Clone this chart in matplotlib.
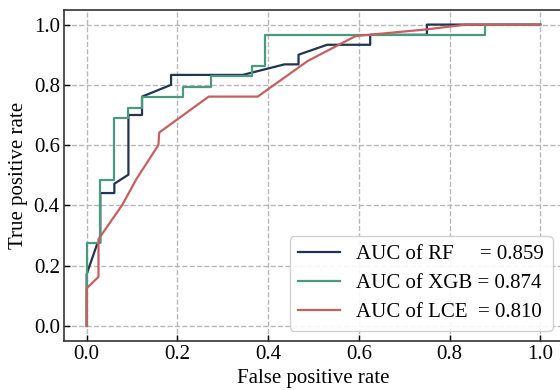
import numpy as np
import matplotlib
matplotlib.use("Agg")
import matplotlib.pyplot as plt

# ROC curve points
fpr_rf = [0.0, 0.0, 0.024, 0.03, 0.03, 0.061, 0.061, 0.092, 0.092, 0.122, 0.122,
          0.186, 0.186, 0.344, 0.436, 0.467, 0.467, 0.53, 0.625, 0.625, 0.75, 0.75, 1.0]
tpr_rf = [0.0, 0.172, 0.276, 0.276, 0.441, 0.441, 0.472, 0.502, 0.70, 0.70, 0.761,
          0.80, 0.833, 0.833, 0.868, 0.868, 0.90, 0.933, 0.933, 0.966, 0.966, 1.0, 1.0]

fpr_xgb = [0.0, 0.0, 0.03, 0.03, 0.061, 0.061, 0.091, 0.091, 0.121, 0.121, 0.212,
           0.212, 0.273, 0.273, 0.364, 0.364, 0.394, 0.394, 0.879, 0.879, 1.0]
tpr_xgb = [0.0, 0.276, 0.276, 0.483, 0.483, 0.69, 0.69, 0.724, 0.724, 0.759, 0.759,
           0.793, 0.793, 0.828, 0.828, 0.862, 0.862, 0.966, 0.966, 1.0, 1.0]

fpr_lce = [0.0, 0.0, 0.026, 0.026, 0.079, 0.109, 0.158, 0.16, 0.269, 0.377,
           0.487, 0.593, 0.749, 0.837, 1.0]
tpr_lce = [0.0, 0.125, 0.163, 0.288, 0.403, 0.486, 0.60, 0.642, 0.761, 0.761,
           0.879, 0.962, 0.984, 1.0, 1.0]

labels = ["AUC of RF     = 0.859", "AUC of XGB = 0.874", "AUC of LCE  = 0.810"]
colors = ["#1f3550", "#4b9a80", "#c4605f"]

plt.rcParams['font.family'] = ['Liberation Serif', 'DejaVu Serif']
plt.rcParams['font.size'] = 15

fig = plt.figure(figsize=(5.6, 3.9), dpi=100)
ax = fig.add_axes([0.1143, 0.1256, 0.891, 0.85])

ax.plot(fpr_rf, tpr_rf, color=colors[0], lw=1.6, label=labels[0])
ax.plot(fpr_xgb, tpr_xgb, color=colors[1], lw=1.6, label=labels[1])
ax.plot(fpr_lce, tpr_lce, color=colors[2], lw=1.6, label=labels[2])

ax.set_xlim(-0.05, 1.05)
ax.set_ylim(-0.05, 1.05)
ax.set_xticks(np.arange(0, 1.01, 0.2))
ax.set_yticks(np.arange(0, 1.01, 0.2))
ax.tick_params(direction='in', length=4, width=1, labelsize=15, pad=3)
ax.grid(True, linestyle='--', color='#b8b8b8', linewidth=1)
for s in ax.spines.values():
    s.set_linewidth(1.2)
    s.set_color('#333333')

ax.set_xlabel("False positive rate", fontsize=15, labelpad=3.5)
ax.set_ylabel("True positive rate", fontsize=15, labelpad=4)

ax.legend(loc='lower right', fontsize=15, handlelength=2.0, framealpha=0.9,
          borderpad=0.4, labelspacing=0.45)

fig.savefig("out.png", dpi=100)
